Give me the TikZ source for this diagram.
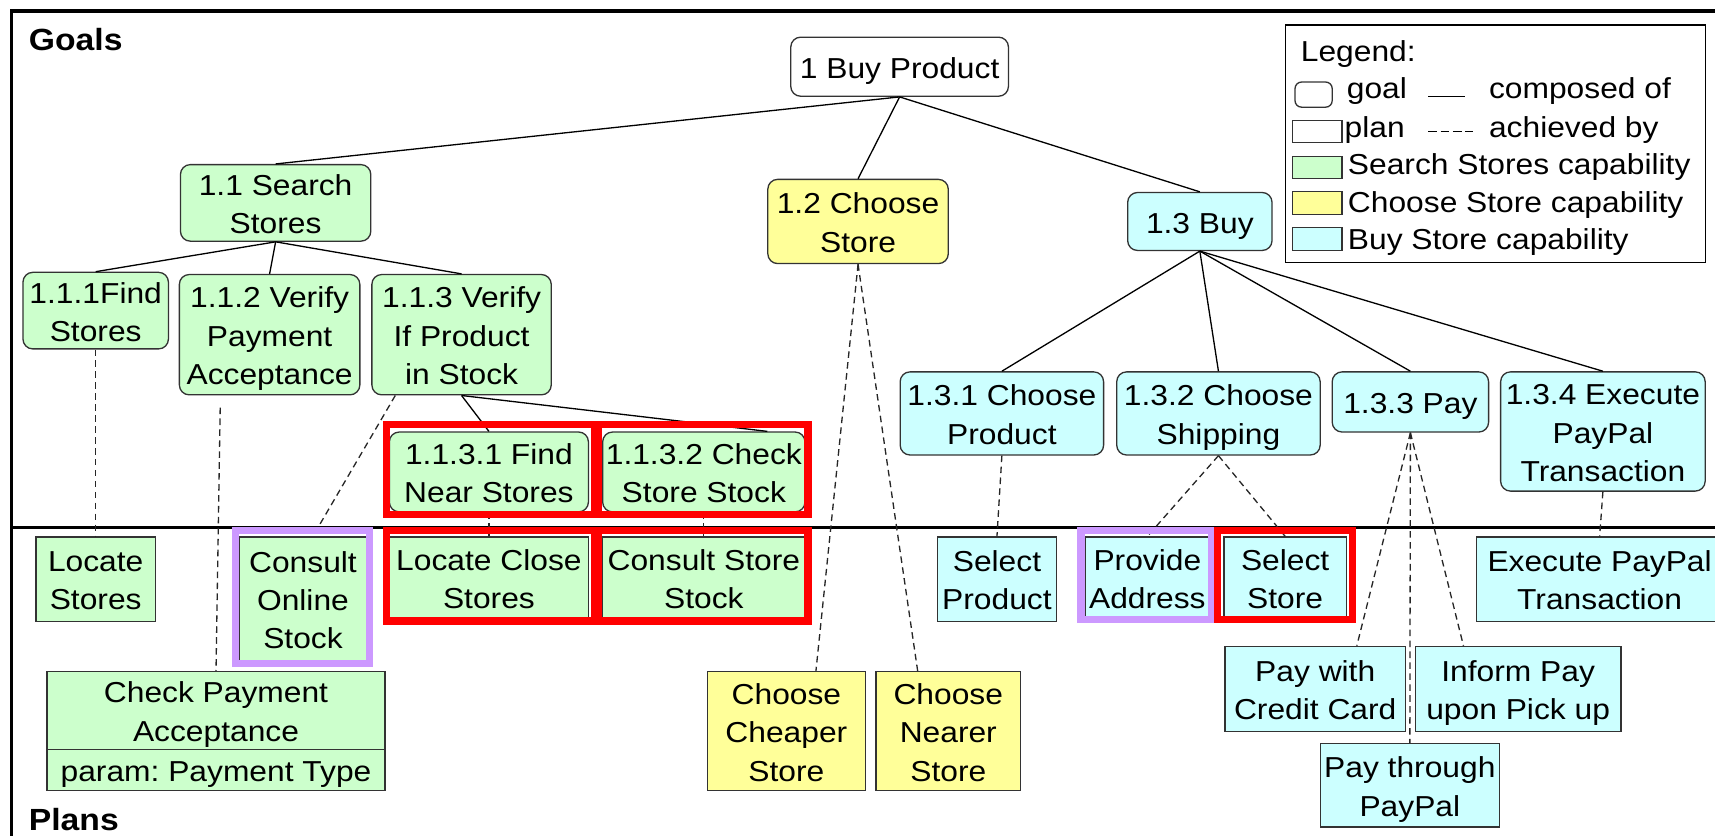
\documentclass[tikz,border=0pt]{standalone}
\usepackage{fontspec}
\setmainfont{Liberation Sans}[FakeStretch=1.1]
\usetikzlibrary{calc}

\definecolor{ssgreen}{HTML}{CCFFCC}
\definecolor{csyellow}{HTML}{FFFF99}
\definecolor{bscyan}{HTML}{CCFFFF}
\definecolor{lilac}{HTML}{CC99FF}
\definecolor{markred}{HTML}{FF0000}
\definecolor{boxline}{HTML}{333333}

\newcommand\boxfont{\fontsize{13.2}{17.5}\selectfont\frenchspacing}
\newcommand\headfont{\fontsize{14}{16}\selectfont\bfseries}
% centred block of lines, set a little low in its box
\newcommand\mlbox[1]{\raisebox{-1.8pt}[\height][\depth]{\begin{tabular}{@{}c@{}}#1\end{tabular}}}

\begin{document}
\begin{tikzpicture}[x=0.5pt,y=-0.5pt,
  % a box given by its left, top, right and bottom edges
  spot/.style args={#1,#2,#3,#4}{at={({(#1+#3)/2},{(#2+#4)/2})},
    minimum width={(#3-#1)*0.5pt}, minimum height={(#4-#2)*0.5pt}},
  goal/.style={draw=boxline, line width=0.6pt, rounded corners=4.5pt,
    inner sep=0pt, font=\boxfont},
  plan/.style={draw=boxline, line width=0.6pt, inner sep=0pt, font=\boxfont},
  ss/.style={fill=ssgreen},
  cs/.style={fill=csyellow},
  bs/.style={fill=bscyan},
  composed/.style={draw=black, line width=0.6pt},
  achieved/.style={draw=black!85, line width=0.6pt, dash pattern=on 3pt off 2pt},
  redmark/.style={draw=markred, line width=3.3pt},
  lilacmark/.style={draw=lilac, line width=3.3pt},
  border/.style={draw=black, line width=1.5pt},
  head/.style={font=\headfont, anchor=base west, inner sep=0pt},
  legtext/.style={font=\boxfont, anchor=base west, inner sep=0pt},
]
\useasboundingbox (0,0) rectangle (1568,764);
\clip (0,0) rectangle (1568,764);

% outer frame and the goals / plans divider
\draw[border] (10.5,10) rectangle (1640,840);
\draw[border] (10.5,482) -- (1640,482);

\node[head] (goalslabel) at (26,46) {Goals};
\node[head] (planslabel) at (26,759) {Plans};

% ---------- goals ----------
\node[goal, fill=white, spot={723,34,922,88}] (b1) {\mlbox{1 Buy Product}};
\node[goal, ss, spot={165,152,339,219}] (g11) {\mlbox{1.1 Search\\Stores}};
\node[goal, cs, spot={702,164,867,241}] (g12) {\mlbox{1.2 Choose\\Store}};
\node[goal, bs, spot={1031,176,1163,229}] (g13) {\mlbox{1.3 Buy}};

\node[goal, ss, spot={21,251,154,317}] (g111) {\mlbox{1.1.1Find\\Stores}};
\node[goal, ss, spot={164,251,329,361}] (g112) {\mlbox{1.1.2 Verify\\Payment\\Acceptance}};
\node[goal, ss, spot={340,251,504,361}] (g113) {\mlbox{1.1.3 Verify\\If Product\\in Stock}};
\node[goal, ss, spot={356,395,538,468}] (g1131) {\mlbox{1.1.3.1 Find\\Near Stores}};
\node[goal, ss, spot={551,395,736,468}] (g1132) {\mlbox{1.1.3.2 Check\\Store Stock}};

\node[goal, bs, spot={823,340,1009,416}] (g131) {\mlbox{1.3.1 Choose\\Product}};
\node[goal, bs, spot={1021,340,1207,416}] (g132) {\mlbox{1.3.2 Choose\\Shipping}};
\node[goal, bs, spot={1218,340,1361,395}] (g133) {\mlbox{1.3.3 Pay}};
\node[goal, bs, spot={1372,340,1559,449}] (g134) {\mlbox{1.3.4 Execute\\PayPal\\Transaction}};

% ---------- plans ----------
\node[plan, ss, spot={33,491,142,568}] (plocate) {\mlbox{Locate\\Stores}};
\node[plan, ss, spot={219,491,335,604}] (ponline) {\mlbox{Consult\\Online\\Stock}};
\node[plan, ss, spot={356,491,538,566}] (pclose) {\mlbox{Locate Close\\Stores}};
\node[plan, ss, spot={551,491,736,566}] (pconsult) {\mlbox{Consult Store\\Stock}};
\node[plan, ss, spot={43,614,352,685}] (pcpa) {\mlbox{Check Payment\\Acceptance}};
\node[plan, ss, spot={43,685,352,723}] (pcpaparam) {\mlbox{param: Payment Type}};

\node[plan, cs, spot={647,614,791,723}] (pcheaper) {\mlbox{Choose\\Cheaper\\Store}};
\node[plan, cs, spot={801,614,933,723}] (pnearer) {\mlbox{Choose\\Nearer\\Store}};

\node[plan, bs, spot={857,491,966,568}] (pselprod) {\mlbox{Select\\Product}};
\node[plan, bs, spot={992,491,1106,566}] (paddr) {\mlbox{Provide\\Address}};
\node[plan, bs, spot={1119,491,1231,566}] (pselstore) {\mlbox{Select\\Store}};
\node[plan, bs, spot={1350,491,1575,568}] (pexec) {\mlbox{Execute PayPal\\Transaction}};
\node[plan, bs, spot={1120,591,1285,669}] (pcredit) {\mlbox{Pay with\\Credit Card}};
\node[plan, bs, spot={1294,591,1482,669}] (pinform) {\mlbox{Inform Pay\\upon Pick up}};
\node[plan, bs, spot={1207,680,1371,756}] (ppaypal) {\mlbox{Pay through\\PayPal}};

% ---------- composed of ----------
\draw[composed] (b1.south) -- (g11.north);
\draw[composed] (b1.south) -- (g12.north);
\draw[composed] (b1.south) -- (g13.north);
\draw[composed] (g11.south) -- (g111.north);
\draw[composed] (g11.south) -- (g112.north);
\draw[composed] (g11.south) -- (g113.north);
\draw[composed] (g113.south) -- (g1131.north);
\draw[composed] (g113.south) -- ([xshift=29pt]g1132.north);
\draw[composed] (g13.south) -- (g131.north);
\draw[composed] (g13.south) -- (g132.north);
\draw[composed] (g13.south) -- (g133.north);
\draw[composed] (g13.south) -- (g134.north);

% ---------- achieved by ----------
\draw[achieved] (g111.south) -- (plocate.north);
\draw[achieved, shorten <=5.5pt] ([xshift=-22.5pt]g112.south) -- (pcpa.north);
\draw[achieved] ([xshift=11pt]g113.south west) -- ([xshift=4.5pt]ponline.north);
\draw[achieved] (g1131.south) -- (pclose.north);
\draw[achieved] (g1132.south) -- (pconsult.north);
\draw[achieved] (g12.south) -- ([xshift=13.5pt]pcheaper.north);
\draw[achieved] (g12.south) -- ([xshift=-14pt]pnearer.north);
\draw[achieved] (g131.south) -- (pselprod.north);
\draw[achieved] (g132.south) -- (paddr.north);
\draw[achieved] (g132.south) -- (pselstore.north);
\draw[achieved] (g133.south) -- ([xshift=19pt]pcredit.north);
\draw[achieved] (g133.south) -- (ppaypal.north);
\draw[achieved] (g133.south) -- ([xshift=-25pt]pinform.north);
\draw[achieved] (g134.south) -- (pexec.north);

% ---------- highlight frames ----------
\draw[redmark] (353.3,388.3) rectangle (543.7,470.7);
\draw[redmark] (547.3,388.3) rectangle (738.7,470.7);
\draw[redmark] (353.3,485.3) rectangle (543.7,567.7);
\draw[redmark] (547.3,485.3) rectangle (738.7,567.7);
\draw[lilacmark] (215.3,485.3) rectangle (337.7,606.7);
\draw[lilacmark] (988.3,485.3) rectangle (1107.7,566.7);
\draw[redmark] (1113.3,485.3) rectangle (1236.7,566.7);

% ---------- legend ----------
\node[draw=black, line width=0.6pt, inner sep=0pt, spot={1175,23,1559,240}] (legend) {};
\node[legtext] (legtitle) at (1189,56.5) {Legend:};
\node[goal, fill=white, rounded corners=3pt, spot={1184,75,1218,98}] (icgoal) {};
\node[legtext] (tgoal) at (1231,90.5) {goal};
\draw[composed] (1306,88.4) -- (1339,88.4);
\node[legtext] (tcomposed) at (1361,90.5) {composed of};
\node[plan, fill=white, spot={1182,110,1227,130}] (icplan) {};
\node[legtext] (tplan) at (1229,125.5) {plan};
\draw[line width=0.6pt, dash pattern=on 4pt off 1.6pt] (1306,120.5) -- (1347,120.5);
\node[legtext] (tachieved) at (1361,125.5) {achieved by};
\node[plan, ss, spot={1182,143,1227,163}] (icss) {};
\node[legtext] (tss) at (1232,160) {Search Stores capability};
\node[plan, cs, spot={1182,175,1227,196}] (iccs) {};
\node[legtext] (tcs) at (1232,194) {Choose Store capability};
\node[plan, bs, spot={1182,208,1227,229}] (icbs) {};
\node[legtext] (tbs) at (1232,228) {Buy Store capability};
\end{tikzpicture}
\end{document}
